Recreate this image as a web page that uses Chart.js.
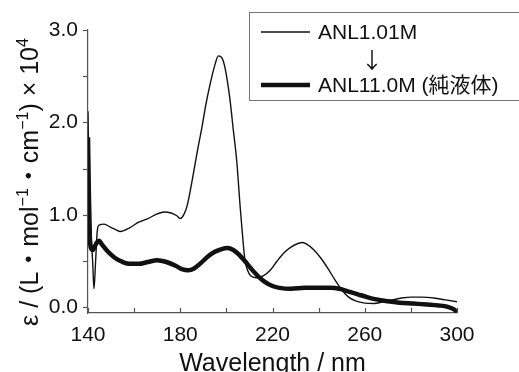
<!DOCTYPE html>
<html>
<head>
<meta charset="utf-8">
<script src="https://cdn.jsdelivr.net/npm/chart.js@4.4.1/dist/chart.umd.min.js"></script>
<style>
html, body { margin: 0; padding: 0; background: #fff; }
</style>
</head>
<body>
<canvas id="chart" width="519" height="372"></canvas>
<script>
// ANL 1.01 M (thin line)
const thinWl = [140, 140.4, 140.8, 141.3, 142.0, 142.6, 143.3, 144.0, 144.8, 147, 149.5, 152, 154, 158, 162, 166, 170, 173, 176, 178.5, 180, 181.5, 183, 185.5, 187.5, 189.5, 191, 193, 195, 196.5, 198, 199.5, 201.5, 203, 204.5, 206, 207, 208, 209.2, 210.5, 213, 216, 219, 222, 225, 228, 231, 233, 235, 238, 241, 244, 247, 250, 253, 256, 260, 264, 268, 272, 276, 280, 285, 290, 295, 300];
const thinEps = [2.12, 1.4, 1.0, 0.8, 0.5, 0.2, 0.5, 0.82, 0.89, 0.9, 0.87, 0.84, 0.82, 0.86, 0.92, 0.96, 1.01, 1.03, 1.02, 0.99, 0.96, 1.0, 1.1, 1.42, 1.7, 1.96, 2.18, 2.42, 2.62, 2.72, 2.70, 2.58, 2.26, 1.92, 1.58, 1.08, 0.78, 0.52, 0.40, 0.34, 0.32, 0.34, 0.40, 0.50, 0.59, 0.65, 0.69, 0.70, 0.68, 0.62, 0.53, 0.42, 0.30, 0.19, 0.11, 0.07, 0.045, 0.04, 0.06, 0.08, 0.10, 0.11, 0.11, 0.10, 0.08, 0.06];

// ANL 11.0 M neat liquid (thick line)
const thickWl = [140, 140.4, 140.8, 141.3, 142, 142.8, 143.8, 144.8, 146, 148, 150, 152.5, 155, 158, 162, 166, 170, 174, 178, 181, 183.5, 186, 189, 192, 195, 198, 200.5, 203, 205.5, 208, 211, 214, 217, 220, 223, 228, 234, 240, 245, 249, 253, 257, 261, 265, 270, 275, 281, 287, 292, 296, 298.5, 300];
const thickEps = [1.84, 1.2, 0.75, 0.64, 0.62, 0.65, 0.70, 0.72, 0.68, 0.62, 0.57, 0.52, 0.49, 0.47, 0.47, 0.49, 0.51, 0.49, 0.45, 0.41, 0.40, 0.42, 0.48, 0.55, 0.60, 0.63, 0.64, 0.62, 0.57, 0.50, 0.41, 0.33, 0.27, 0.23, 0.21, 0.20, 0.21, 0.21, 0.21, 0.20, 0.17, 0.14, 0.11, 0.085, 0.065, 0.05, 0.04, 0.03, 0.02, 0.005, -0.02, -0.05];

const seriesNames = ["ANL1.01M", "ANL11.0M (純液体)"];
const xTickValues = [140, 160, 180, 200, 220, 240, 260, 280, 300];
const xLabelValues = [140, 180, 220, 260, 300];
const yTickValues = [0, 0.5, 1, 1.5, 2, 2.5, 3];
const yLabelValues = [0, 1, 2, 3];

const latin = '"Liberation Sans", Arial, "Noto Sans CJK JP", sans-serif';
const axisColor = "#555";

const toPoints = (xs, ys) => xs.map((x, i) => ({ x: x, y: ys[i] }));

// inward x ticks, outward y ticks, titles and the boxed legend
const decor = {
    id: "decor",
    afterDraw(c) {
        const ctx = c.ctx;
        const xs = c.scales.x;
        const ys = c.scales.y;
        const area = c.chartArea;
        ctx.save();
        ctx.strokeStyle = axisColor;
        ctx.lineWidth = 1.2;
        xTickValues.forEach(v => {
            const px = Math.round(xs.getPixelForValue(v)) + 0.5;
            ctx.beginPath();
            ctx.moveTo(px, area.bottom);
            ctx.lineTo(px, area.bottom - 5);
            ctx.stroke();
        });
        yTickValues.forEach(v => {
            const py = Math.round(ys.getPixelForValue(v)) + 0.5;
            ctx.beginPath();
            ctx.moveTo(area.left, py);
            ctx.lineTo(area.left - 5, py);
            ctx.stroke();
        });

        // x title
        ctx.fillStyle = "#111";
        ctx.font = "25px " + latin;
        ctx.textAlign = "center";
        ctx.textBaseline = "alphabetic";
        ctx.fillText("Wavelength / nm", (area.left + area.right) / 2, 371);

        // y title with superscripts
        const parts = [
            ["ε / (L・mol", false], ["−1", true], ["・cm", false], ["−1", true], [") × 10", false], ["4", true]
        ];
        const baseFont = "25px " + latin;
        const supFont = "16px " + latin;
        let total = 0;
        parts.forEach(p => {
            ctx.font = p[1] ? supFont : baseFont;
            total += ctx.measureText(p[0]).width;
        });
        ctx.translate(38, 182);
        ctx.rotate(-Math.PI / 2);
        ctx.textAlign = "left";
        let cx = -total / 2;
        parts.forEach(p => {
            ctx.font = p[1] ? supFont : baseFont;
            ctx.fillText(p[0], cx, p[1] ? -10 : 0);
            cx += ctx.measureText(p[0]).width;
        });
        ctx.restore();

        // legend
        ctx.save();
        ctx.strokeStyle = "#777";
        ctx.lineWidth = 1;
        ctx.strokeRect(249.5, 12.5, 290, 88);
        ctx.strokeStyle = "#111";
        ctx.lineWidth = 1.4;
        ctx.beginPath();
        ctx.moveTo(261, 32);
        ctx.lineTo(310, 32);
        ctx.stroke();
        ctx.lineWidth = 4.5;
        ctx.beginPath();
        ctx.moveTo(261, 85);
        ctx.lineTo(310, 85);
        ctx.stroke();
        ctx.fillStyle = "#111";
        ctx.font = "21px " + latin;
        ctx.textAlign = "left";
        ctx.textBaseline = "middle";
        ctx.fillText(seriesNames[0], 318, 33);
        ctx.fillText(seriesNames[1], 318, 86);
        ctx.textAlign = "center";
        ctx.font = '22px "Noto Sans CJK JP", sans-serif';
        ctx.fillText("↓", 372, 60);
        ctx.restore();
    }
};

const ctx = document.getElementById("chart").getContext("2d");

const chart = new Chart(ctx, {
    type: "line",
    data: {
        datasets: [
            {
                label: seriesNames[1],
                data: toPoints(thickWl, thickEps),
                borderColor: "#111",
                borderWidth: 4.5,
                pointRadius: 0,
                cubicInterpolationMode: "monotone"
            },
            {
                label: seriesNames[0],
                data: toPoints(thinWl, thinEps),
                borderColor: "#111",
                borderWidth: 1.4,
                pointRadius: 0,
                cubicInterpolationMode: "monotone"
            }
        ]
    },
    options: {
        responsive: false,
        animation: false,
        devicePixelRatio: 1,
        layout: {
            padding: { left: 0, right: 62, top: 30, bottom: 0 }
        },
        plugins: {
            legend: { display: false },
            tooltip: { enabled: false }
        },
        scales: {
            x: {
                type: "linear",
                min: 140,
                max: 300,
                afterFit: s => { s.height = 59; },
                afterBuildTicks: s => { s.ticks = xLabelValues.map(v => ({ value: v })); },
                grid: { display: false, drawTicks: false },
                border: { display: true, color: axisColor, width: 1.2 },
                ticks: {
                    padding: 10,
                    color: "#111",
                    font: { family: latin, size: 21 },
                    callback: v => String(v)
                }
            },
            y: {
                type: "linear",
                min: -0.062,
                max: 3,
                afterFit: s => { s.width = 88; },
                afterBuildTicks: s => { s.ticks = yLabelValues.map(v => ({ value: v })); },
                grid: { display: false, drawTicks: false },
                border: { display: true, color: axisColor, width: 1.2 },
                ticks: {
                    padding: 10,
                    color: "#111",
                    font: { family: latin, size: 21 },
                    callback: v => v.toFixed(1)
                }
            }
        }
    },
    plugins: [decor]
});
</script>
</body>
</html>
